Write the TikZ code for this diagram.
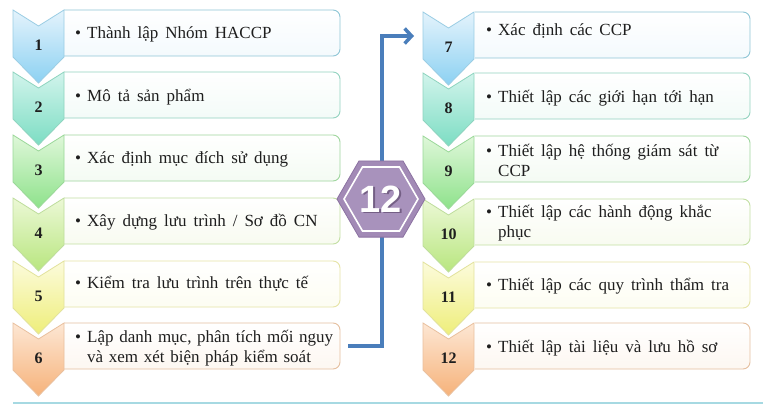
\documentclass[tikz,border=0pt]{standalone}
\usepackage{fontspec}
\setmainfont{Liberation Serif}
\newfontfamily\hexfont{Liberation Sans}
\usetikzlibrary{arrows.meta}
% chevron top / bottom / border colours, box border colours, box tint
\definecolor{t1}{HTML}{E4F3FC}\definecolor{b1}{HTML}{8CD1F2}\definecolor{bd1}{HTML}{9ACDE4}\definecolor{bx1}{HTML}{8FC6D6}\definecolor{f1}{HTML}{F4FAFD}
\definecolor{t2}{HTML}{D2F4EC}\definecolor{b2}{HTML}{7CDDC3}\definecolor{bd2}{HTML}{8ED4BF}\definecolor{bx2}{HTML}{93D3C0}\definecolor{f2}{HTML}{F3FBF8}
\definecolor{t3}{HTML}{DFF7D9}\definecolor{b3}{HTML}{8EE28B}\definecolor{bd3}{HTML}{9AD899}\definecolor{bx3}{HTML}{9FD69E}\definecolor{f3}{HTML}{F4FBF3}
\definecolor{t4}{HTML}{ECF8D6}\definecolor{b4}{HTML}{B8E67F}\definecolor{bd4}{HTML}{BEDD9C}\definecolor{bx4}{HTML}{C3DFA3}\definecolor{f4}{HTML}{F8FBF0}
\definecolor{t5}{HTML}{FCFBDC}\definecolor{b5}{HTML}{EEEE7A}\definecolor{bd5}{HTML}{E2E29C}\definecolor{bx5}{HTML}{E6E4A6}\definecolor{f5}{HTML}{FDFDF2}
\definecolor{t6}{HTML}{FDE7D4}\definecolor{b6}{HTML}{F6B27A}\definecolor{bd6}{HTML}{E9C09E}\definecolor{bx6}{HTML}{E5BF9F}\definecolor{f6}{HTML}{FDF7F1}
\definecolor{txtc}{HTML}{1E1E1E}
\definecolor{connc}{HTML}{4A7EBB}
\definecolor{hexo}{HTML}{A28AB6}
\definecolor{hexi}{HTML}{A892BC}
\definecolor{hexb}{HTML}{8C72A2}
\definecolor{hexsh}{HTML}{5E4A6E}
\definecolor{basec}{HTML}{A6D9E2}
\newcommand\widesp{\spaceskip=7pt plus 1pt\relax}
\newcommand\stagechev[5]{% #1 left x, #2 top, #3 colour index, #4 number, #5 name
  \path[draw=bd#3, line width=0.8pt, top color=t#3, bottom color=b#3]
    (#1,#2) -- (#1+25.5,#2+16) -- (#1+51,#2) -- (#1+51,#2+47) -- (#1+25.5,#2+73) -- (#1,#2+47) -- cycle;
  \node[numtxt] (#5) at (#1+25.5,#2+35) {#4};
}
\newcommand\stagebox[4]{% #1 left x, #2 top, #3 right x, #4 colour index
  \path[draw=bx#4, line width=0.9pt, top color=white, bottom color=f#4, rounded corners=7pt]
    (#1,#2) -- (#3,#2) -- (#3,#2+46) -- (#1,#2+46);
}
\tikzset{
  numtxt/.style={inner sep=0pt, font=\bfseries\fontsize{16}{16}\selectfont, text=txtc},
  txtn/.style={anchor=base west, inner sep=0pt, text width=280pt, align=left, font=\fontsize{17}{20}\selectfont, text=txtc},
  txt/.style={txtn, execute at begin node=\widesp},
  bul/.style={anchor=base west, inner sep=0pt, font=\fontsize{17}{20}\selectfont, text=txtc},
  conn/.style={draw=connc, line width=3.5pt, -{Straight Barb[length=7pt,width=15pt]}},
}
\begin{document}
\begin{tikzpicture}[x=1pt,y=-1pt]
\useasboundingbox (0,0) rectangle (768,404);
\fill[white] (0,0) rectangle (768,404);
% ---- left column
\stagebox{64}{10}{340}{1}\stagechev{13}{10}{1}{1}{n1}
\stagebox{64}{72}{340}{2}\stagechev{13}{72}{2}{2}{n2}
\stagebox{64}{135}{340}{3}\stagechev{13}{135}{3}{3}{n3}
\stagebox{64}{198}{340}{4}\stagechev{13}{198}{4}{4}{n4}
\stagebox{64}{261}{340}{5}\stagechev{13}{261}{5}{5}{n5}
\stagebox{64}{323}{340}{6}\stagechev{13}{323}{6}{6}{n6}
% ---- right column
\stagebox{475}{12}{750}{1}\stagechev{423}{12}{1}{7}{n7}
\stagebox{475}{73}{750}{2}\stagechev{423}{73}{2}{8}{n8}
\stagebox{475}{136}{750}{3}\stagechev{423}{136}{3}{9}{n9}
\stagebox{475}{199}{750}{4}\stagechev{423}{199}{4}{10}{n10}
\stagebox{475}{262}{750}{5}\stagechev{423}{262}{5}{11}{n11}
\stagebox{475}{323}{750}{6}\stagechev{423}{323}{6}{12}{n12}
% ---- texts left
\node[bul] (u1) at (75,38) {•};  \node[txt] (x1) at (87,38) {Thành lập Nhóm HACCP};
\node[bul] (u2) at (75,101) {•}; \node[txt] (x2) at (87,101) {Mô tả sản phẩm};
\node[bul] (u3) at (75,163) {•}; \node[txt] (x3) at (87,163) {Xác định mục đích sử dụng};
\node[bul] (u4) at (75,226) {•}; \node[txt] (x4) at (87,226) {Xây dựng lưu trình / Sơ đồ CN};
\node[bul] (u5) at (75,288) {•}; \node[txt] (x5) at (87,288) {Kiểm tra lưu trình trên thực tế};
\node[bul] (u6) at (75,342) {•}; \node[txtn] (x6) at (87,342) {Lập danh mục, phân tích mối nguy\\và xem xét biện pháp kiểm soát};
% ---- texts right
\node[bul] (u7) at (486,36) {•};  \node[txt] (x7) at (498,36) {Xác định các CCP};
\node[bul] (u8) at (486,102) {•}; \node[txt] (x8) at (498,102) {Thiết lập các giới hạn tới hạn};
\node[bul] (u9) at (486,156) {•}; \node[txt] (x9) at (498,156) {Thiết lập hệ thống giám sát từ\\CCP};
\node[bul] (u10) at (486,217) {•}; \node[txt] (x10) at (498,217) {Thiết lập các hành động khắc\\phục};
\node[bul] (u11) at (486,290) {•}; \node[txt] (x11) at (498,290) {Thiết lập các quy trình thẩm tra};
\node[bul] (u12) at (486,352) {•}; \node[txt] (x12) at (498,352) {Thiết lập tài liệu và lưu hồ sơ};
% ---- connector from step 6 to step 7
\coordinate (hexc) at (382,199);
\coordinate (c6) at (348,346);
\coordinate (c7) at (414,36);
\draw[conn] (c6) -| (c7 -| hexc) -- (c7);
% ---- hexagon badge
\begin{scope}[shift={(381,199)}]
  \path[fill=hexo, draw=hexb, line width=0.8pt] (44,0) -- (22,38.1) -- (-22,38.1) -- (-44,0) -- (-22,-38.1) -- (22,-38.1) -- cycle;
  \path[fill=hexi, draw=white, line width=1.6pt] (37,0) -- (18.5,32) -- (-18.5,32) -- (-37,0) -- (-18.5,-32) -- (18.5,-32) -- cycle;
\end{scope}
\node[text=hexsh, opacity=0.7, font=\hexfont\bfseries\fontsize{38}{38}\selectfont, inner sep=0pt] (hexs) at (382.5,200.5) {12};
\node[text=white, font=\hexfont\bfseries\fontsize{38}{38}\selectfont, inner sep=0pt] (hex) at (381,199) {12};
% ---- base line
\draw[basec, line width=2pt] (13,402.5) -- (763,402.5);
\end{tikzpicture}
\end{document}
